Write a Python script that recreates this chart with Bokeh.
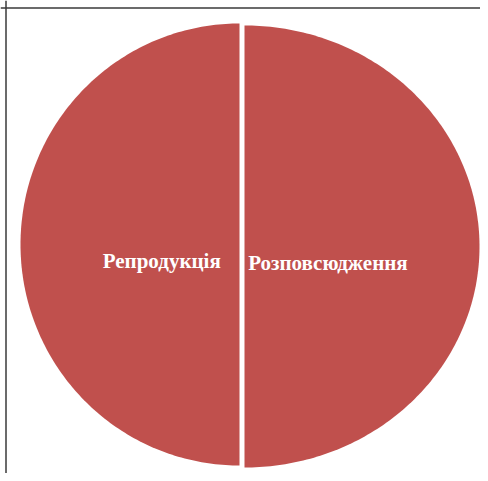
import numpy as np
from bokeh.plotting import figure
from bokeh.models import Range1d, Span
from bokeh.core.properties import value
from bokeh.embed import file_html
from bokeh.resources import INLINE

# data
categories = ["Репродукція", "Розповсюдження"]
values = [50, 50]

# style / geometry (screen pixels)
slice_color = "#C0504D"
centers_x = [239, 244]
centers_y = [244, 246]
radii_x = [219, 235]
radii_y = [221, 221]
label_frac = 0.355
label_dy = 16

p = figure(width=480, height=473, output_backend="svg", toolbar_location=None,
           x_range=Range1d(0, 480), y_range=Range1d(473, 0),
           min_border=0, min_border_left=0, min_border_right=0,
           min_border_top=0, min_border_bottom=0)
p.axis.visible = False
p.grid.visible = False
p.outline_line_color = None
p.background_fill_color = "white"

total = float(sum(values))
start = np.pi / 2  # 12 o'clock, counter-clockwise
xs, ys, lx, ly = [], [], [], []
for i, v in enumerate(values):
    span = 2 * np.pi * v / total
    t = np.linspace(start, start + span, 200)
    cx, cy, rx, ry = centers_x[i], centers_y[i], radii_x[i], radii_y[i]
    px = np.concatenate([[cx], cx + rx * np.cos(t), [cx]])
    py = np.concatenate([[cy], cy - ry * np.sin(t), [cy]])
    xs.append(list(px))
    ys.append(list(py))
    mid = start + span / 2
    lx.append(cx + label_frac * rx * np.cos(mid))
    ly.append(cy - label_frac * ry * np.sin(mid) + label_dy)
    start += span

p.patches(xs, ys, fill_color=slice_color, line_color=None)

p.text(x=lx, y=ly, text=categories, text_color="white",
       text_font=value("Liberation Serif"), text_font_style="bold",
       text_font_size="21px", text_align="center", text_baseline="middle")

p.add_layout(Span(location=5.5, dimension="height", line_color="#3a3a3a", line_width=1.5))
p.add_layout(Span(location=7.5, dimension="width", line_color="#3a3a3a", line_width=1.5))

open("out.html", "w").write(file_html(p, INLINE))
